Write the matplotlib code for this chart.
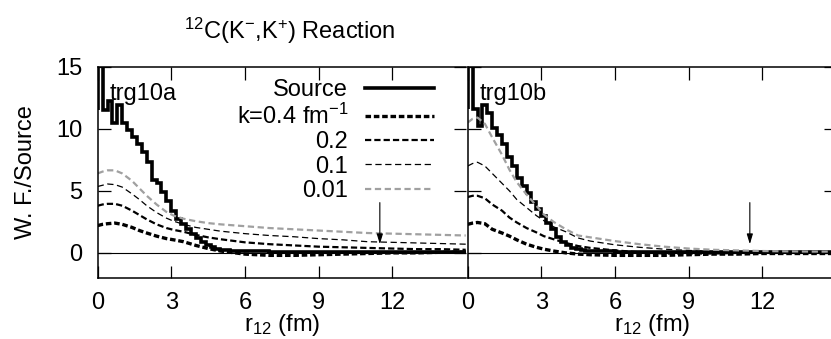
import matplotlib
matplotlib.use("Agg")
import matplotlib.pyplot as plt

plt.rcParams["font.family"] = ["Liberation Sans", "DejaVu Sans"]
plt.rcParams["mathtext.fontset"] = "custom"
plt.rcParams["mathtext.rm"] = "Liberation Sans"
plt.rcParams["mathtext.it"] = "Liberation Sans"
plt.rcParams["lines.scale_dashes"] = False

FS = 17

# Source histograms (bin edges in fm, heights); the zero-width first bin
# gives the jump at r=0
src_edges_a = [0, 0, 0.2, 0.4, 0.6, 0.8, 1.0, 1.2, 1.4, 1.6, 1.8, 2.0, 2.2, 2.4, 2.6,
               2.8, 3.0, 3.2, 3.4, 3.6, 3.8, 4.0, 4.2, 4.4, 4.6, 4.8, 5.0, 5.2, 5.4,
               6, 7, 8, 9, 10, 11, 12, 13, 14, 15]
src_vals_a = [11.5, 16, 11.5, 12.2, 10.5, 11.9, 10.5, 9.9, 9.3, 8.8, 8.1, 7.3, 5.9, 5.6,
              4.9, 4.2, 3.4, 2.7, 2.3, 1.9, 1.5, 1.2, 0.9, 0.6, 0.5, 0.35, 0.25, 0.2,
              0.15, 0.12, 0.1, 0.1, 0.08, 0.08, 0.06, 0.06, 0.05, 0.05]

src_edges_b = [0, 0, 0.2, 0.4, 0.6, 0.8, 1.0, 1.2, 1.4, 1.6, 1.8, 2.0, 2.2, 2.4, 2.6,
               2.8, 3.0, 3.2, 3.4, 3.6, 3.8, 4.0, 4.2, 4.4, 4.6, 4.8, 5.4,
               6, 7, 8, 9, 10, 11, 12, 13, 14, 15]
src_vals_b = [11.6, 16, 11.6, 10.2, 11.9, 11.3, 10.1, 9.5, 8.8, 7.7, 7.0, 6.0, 5.4, 4.8,
              4.1, 3.5, 3.0, 2.4, 1.9, 1.3, 0.9, 0.6, 0.4, 0.3, 0.2,
              0.15, 0.12, 0.1, 0.1, 0.08, 0.08, 0.06, 0.06, 0.05, 0.05, 0.05]

# wave functions / source for each k
r = [0, 0.2, 0.4, 0.7, 1.0, 1.4, 1.7, 2.0, 2.4, 2.8, 3.1, 3.5, 4.0, 4.5, 5,
     6, 7, 8, 9, 10, 11, 12, 13, 14, 15]

wf_a = {
    "0.4": [2.2, 2.3, 2.35, 2.4, 2.3, 2.05, 1.8, 1.6, 1.35, 1.15, 1.05, 0.9, 0.6,
            0.35, 0.15, -0.1, -0.2, -0.2, -0.15, -0.1, -0.05, 0, 0, 0.05, 0.05],
    "0.2": [3.8, 3.9, 3.95, 3.95, 3.8, 3.4, 3.05, 2.7, 2.3, 2.0, 1.85, 1.7, 1.45,
            1.25, 1.1, 0.85, 0.7, 0.6, 0.5, 0.45, 0.4, 0.35, 0.3, 0.3, 0.25],
    "0.1": [5.35, 5.45, 5.55, 5.5, 5.3, 4.75, 4.3, 3.8, 3.25, 2.8, 2.55, 2.3, 2.05,
            1.9, 1.75, 1.55, 1.4, 1.3, 1.15, 1.05, 0.9, 0.85, 0.8, 0.75, 0.7],
    "0.01": [6.4, 6.55, 6.65, 6.65, 6.4, 5.8, 5.2, 4.6, 3.9, 3.3, 3.0, 2.75, 2.55,
             2.4, 2.3, 2.15, 2.0, 1.9, 1.8, 1.7, 1.6, 1.55, 1.5, 1.45, 1.4],
}

wf_b = {
    "0.4": [2.3, 2.4, 2.45, 2.35, 1.9, 1.6, 1.35, 1.05, 0.7, 0.45, 0.3, 0.15, 0.0,
            -0.1, -0.15, -0.2, -0.2, -0.2, -0.15, -0.1, -0.1, -0.05, -0.05, -0.05, -0.05],
    "0.2": [4.5, 4.6, 4.6, 4.4, 3.9, 3.4, 2.85, 2.45, 2.0, 1.65, 1.35, 1.1, 0.8,
            0.55, 0.4, 0.2, 0.05, -0.05, -0.05, -0.05, 0, 0, 0, 0, 0],
    "0.1": [7.0, 7.2, 7.3, 7.0, 6.4, 5.6, 5.0, 4.3, 3.65, 3.0, 2.6, 2.1, 1.7,
            1.2, 0.95, 0.65, 0.45, 0.3, 0.2, 0.1, 0.05, 0, 0, 0, 0],
    "0.01": [10.5, 10.8, 10.9, 10.4, 9.3, 7.9, 6.7, 5.7, 4.7, 3.8, 3.1, 2.5, 1.9,
             1.4, 1.25, 0.95, 0.7, 0.5, 0.35, 0.25, 0.2, 0.15, 0.12, 0.1, 0.1],
}

k_labels = {"0.4": "k=0.4 fm$^{-1}$", "0.2": "0.2", "0.1": "0.1", "0.01": "0.01"}
styles = {
    "0.4": dict(color="black", lw=2.4, dashes=(4.0, 2.0)),
    "0.2": dict(color="black", lw=1.6, dashes=(4.5, 2.2)),
    "0.1": dict(color="black", lw=0.9, dashes=(4.5, 2.6)),
    "0.01": dict(color="#a0a0a0", lw=1.6, dashes=(4.5, 2.6)),
}

arrow_r = 11.5
xticks = [0, 3, 6, 9, 12]
yticks = [0, 5, 10, 15]

W, H = 831, 339
fig = plt.figure(figsize=(W / 100, H / 100), dpi=100)
ax_a = fig.add_axes([97.7 / W, (H - 277.7) / H, 368 / W, 211 / H])
ax_b = fig.add_axes([467.7 / W, (H - 277.7) / H, 368 / W, 211 / H])


def draw_panel(ax, edges, vals, wf, name, legend=False):
    ax.stairs(vals, edges, color="black", lw=2.6, label="Source", baseline=None)
    for k in ["0.4", "0.2", "0.1", "0.01"]:
        ax.plot(r, wf[k], label=k_labels[k], **styles[k])
    ax.axhline(0, color="black", lw=0.8)
    ax.annotate("", xy=(arrow_r, 0.7), xytext=(arrow_r, 4.05),
                arrowprops=dict(arrowstyle="-|>,head_length=0.6,head_width=0.18",
                                color="black", lw=0.8, shrinkA=0, shrinkB=0))
    ax.text(0.5, 12.3, name, fontsize=FS, va="baseline")
    ax.set_xlim(0, 15)
    ax.set_ylim(-2, 15)
    ax.set_xticks(xticks)
    ax.set_yticks(yticks)
    ax.tick_params(direction="in", length=9, width=0.9, top=True, right=True,
                   labelsize=FS, pad=10)
    ax.tick_params(axis="y", pad=11)
    for s in ax.spines.values():
        s.set_linewidth(1.1)
    ax.set_xlabel("r$_{12}$ (fm)", fontsize=FS, labelpad=-1)
    if legend:
        ax.legend(loc="upper right", bbox_to_anchor=(0.915, 0.94), frameon=False,
                  markerfirst=False, fontsize=FS, handlelength=2.95,
                  handletextpad=0.7, labelspacing=0.1, borderpad=0,
                  borderaxespad=0)


draw_panel(ax_a, src_edges_a, src_vals_a, wf_a, "trg10a", legend=True)
draw_panel(ax_b, src_edges_b, src_vals_b, wf_b, "trg10b")
ax_b.tick_params(labelleft=False)
ax_a.spines["right"].set_visible(False)
ax_a.set_ylabel("W. F./Source", fontsize=FS, labelpad=14)

fig.text(290 / W, 1 - 39 / H, "$^{12}$C(K$^{-}$,K$^{+}$) Reaction", fontsize=FS,
         ha="center", va="baseline")

fig.savefig("out.png", dpi=100)
